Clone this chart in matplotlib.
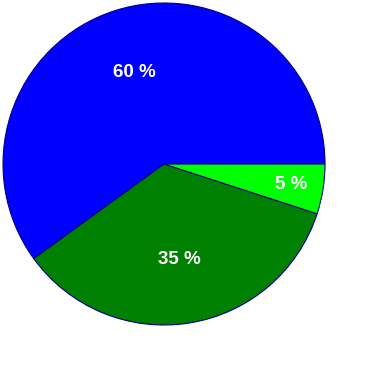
import matplotlib
matplotlib.use('Agg')
import matplotlib.pyplot as plt
import numpy as np

shares = [60, 35, 5]
colors = ['#0000ff', '#008000', '#00ff00']
labels = ['60 %', '35 %', '5 %']

fig = plt.figure(figsize=(3.72, 3.73), dpi=100)
W, H = 372, 373
cx, cy, r = 164, 164, 161
ax = fig.add_axes([(cx - r) / W, (H - cy - r) / H, 2 * r / W, 2 * r / H])

wedges, texts = ax.pie(shares, colors=colors, startangle=0, counterclock=True,
                       wedgeprops={'edgecolor': '#000080', 'linewidth': 0.8})

# label radius per slice (small slice sits further out)
dist = [0.6, 0.6, 0.8]
for w, lab, d in zip(wedges, labels, dist):
    mid = np.deg2rad((w.theta1 + w.theta2) / 2)
    ax.text(d * np.cos(mid), d * np.sin(mid), lab, ha='center', va='center',
            color='white', fontsize=13.5, fontweight='bold', family='Liberation Sans')

ax.set_xlim(-1, 1)
ax.set_ylim(-1, 1)
ax.set_aspect('auto')
ax.axis('off')

fig.savefig('out.png', dpi=100)
